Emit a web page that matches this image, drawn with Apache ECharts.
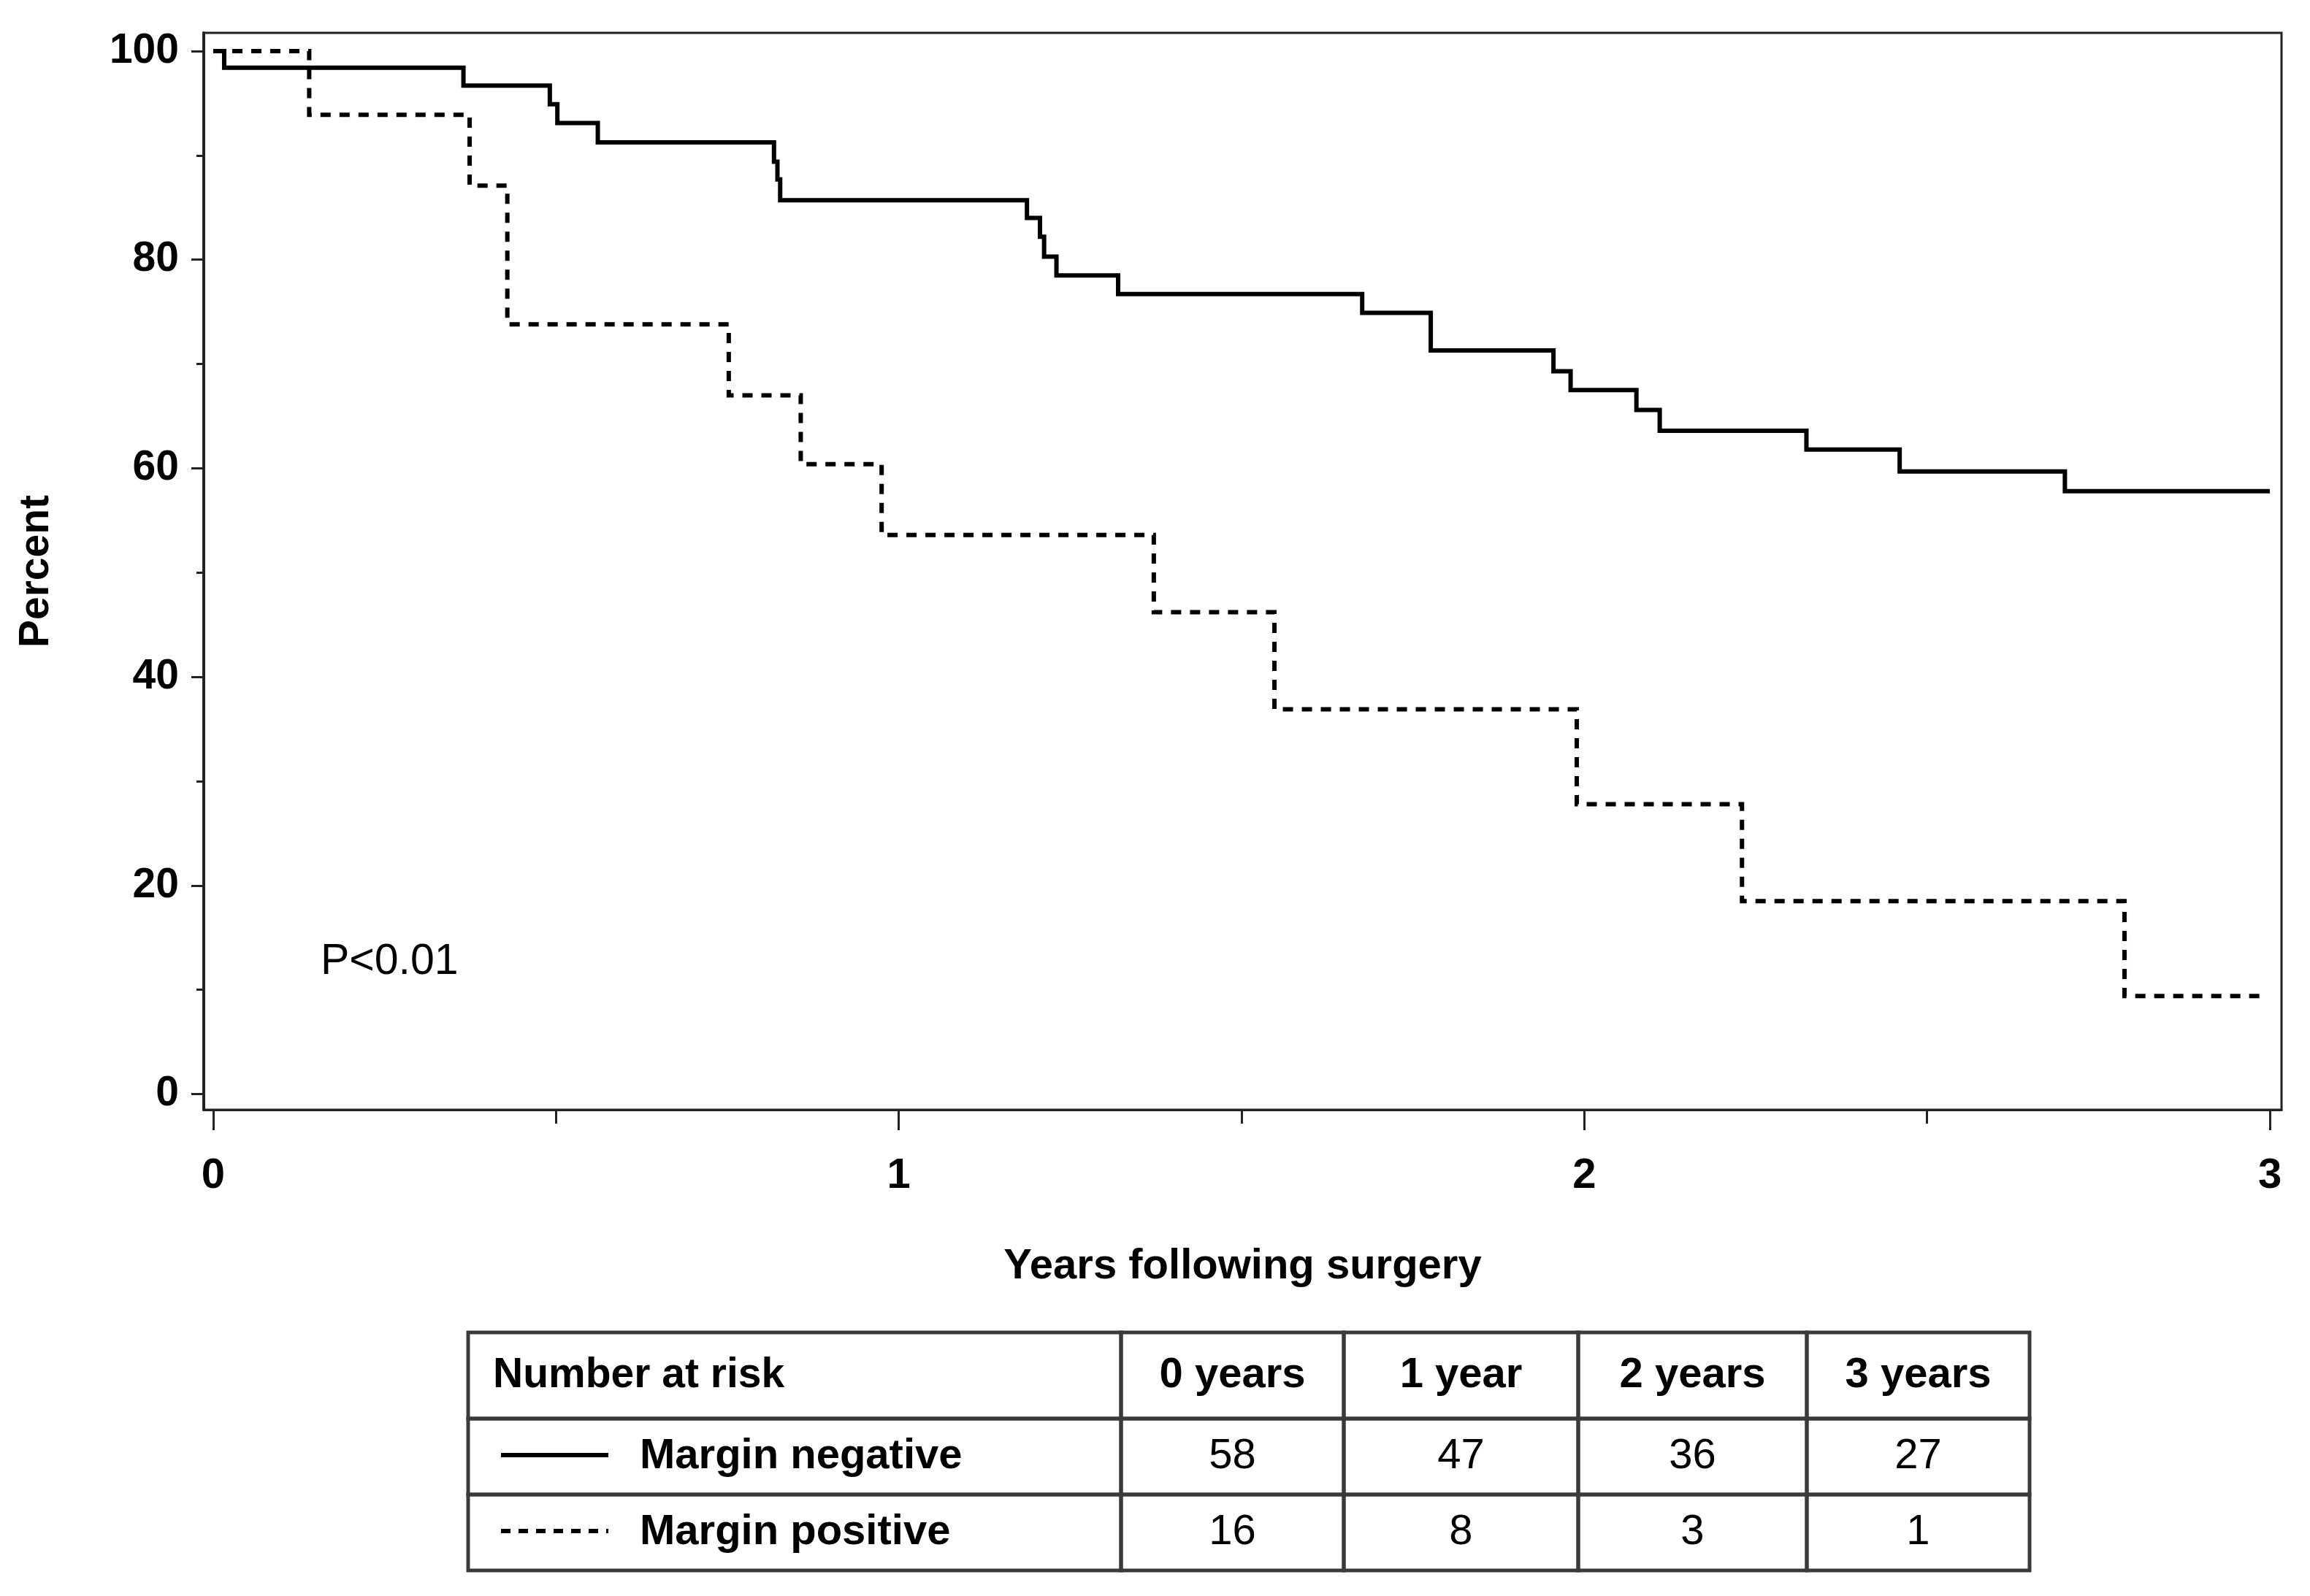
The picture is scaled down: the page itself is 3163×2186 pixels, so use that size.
<!DOCTYPE html>
<html><head><meta charset="utf-8">
<script src="https://cdn.jsdelivr.net/npm/echarts@6/dist/echarts.min.js"></script>
<style>html,body{margin:0;padding:0;background:#fff}#c{width:3163px;height:2186px}</style>
</head><body><div id="c"></div>
<script>
// ---- data ----
const negTimes = [0, 0.016, 0.365, 0.491, 0.502, 0.561, 0.818, 0.823, 0.827, 1.187, 1.206, 1.212, 1.230, 1.320, 1.676, 1.776, 1.955, 1.980, 2.076, 2.110, 2.324, 2.460, 2.701, 3.0];
const negSurv  = [100, 98.4, 96.7, 94.9, 93.1, 91.25, 89.4, 87.7, 85.7, 84.0, 82.2, 80.3, 78.5, 76.7, 74.9, 71.3, 69.3, 67.5, 65.6, 63.6, 61.8, 59.7, 57.8, 57.8];
const posTimes = [0, 0.140, 0.374, 0.429, 0.752, 0.857, 0.975, 1.372, 1.548, 1.989, 2.230, 2.788, 2.996];
const posSurv  = [100, 93.9, 87.1, 73.8, 67.0, 60.4, 53.6, 46.2, 36.9, 27.8, 18.5, 9.4, 9.4];
const yMajorTicks = [0, 20, 40, 60, 80, 100];
const yMinorTicks = [10, 30, 50, 70, 90];
const xMajorTicks = [0, 1, 2, 3];
const xMinorTicks = [0.5, 1.5, 2.5];
const seriesNames = ['Margin negative', 'Margin positive'];
const riskHeader = ['Number at risk', '0 years', '1 year', '2 years', '3 years'];
const riskNeg = [58, 47, 36, 27];
const riskPos = [16, 8, 3, 1];
const pText = 'P<0.01';
const xTitle = 'Years following surgery';
const yTitle = 'Percent';

// ---- layout (not data) ----
const FONT = '"Liberation Sans", Arial, Helvetica, sans-serif';
const colEdges = [0, 894, 1199, 1520, 1833, 2138];
const rowEdges = [0, 118, 222, 326];
const DASH = [14, 12];

const zip = (a, b) => a.map((v, i) => [v, b[i]]);
const cells = [];
for (let r = 0; r < 3; r++) for (let c = 0; c < 5; c++) cells.push([c, r]);
function cellText(c, r) {
  if (r === 0) return riskHeader[c];
  if (c === 0) return seriesNames[r - 1];
  return String((r === 1 ? riskNeg : riskPos)[c - 1]);
}

const chart = echarts.init(document.getElementById('c'));
const axisLbl = {fontFamily: FONT, fontWeight: 'bold', fontSize: 57, color: '#000'};
chart.setOption({
  animation: false,
  backgroundColor: '#fff',
  grid: [
    {left: 279, top: 45, right: 39, bottom: 666, show: true, borderColor: '#222', borderWidth: 3, backgroundColor: 'transparent'},
    {left: 641, top: 1825, width: 2138, height: 326, show: false}
  ],
  xAxis: [
    {type: 'value', gridIndex: 0, min: -0.0138, max: 3.017, position: 'bottom',
     axisLine: {show: true, onZero: false, lineStyle: {color: '#222', width: 3}},
     axisTick: {show: true, length: 28, customValues: xMajorTicks, lineStyle: {color: '#222', width: 3}},
     axisLabel: {show: true, customValues: xMajorTicks, margin: 62, ...axisLbl, fontSize: 58},
     splitLine: {show: false},
     name: xTitle, nameLocation: 'middle', nameGap: 186,
     nameTextStyle: {fontFamily: FONT, fontWeight: 'bold', fontSize: 58, color: '#000'}},
    {type: 'value', gridIndex: 0, min: -0.0138, max: 3.017, position: 'bottom',
     axisLine: {show: false, onZero: false},
     axisTick: {show: true, length: 19, customValues: xMinorTicks, lineStyle: {color: '#222', width: 3}},
     axisLabel: {show: false}, splitLine: {show: false}},
    {type: 'value', gridIndex: 1, min: 0, max: 2138, show: false}
  ],
  yAxis: [
    {type: 'value', gridIndex: 0, min: -1.5, max: 101.75, position: 'left',
     axisLine: {show: true, onZero: false, lineStyle: {color: '#222', width: 4}},
     axisTick: {show: true, length: 17, customValues: yMajorTicks, lineStyle: {color: '#222', width: 3}},
     axisLabel: {show: true, customValues: yMajorTicks, margin: 34, ...axisLbl},
     splitLine: {show: false},
     name: yTitle, nameLocation: 'middle', nameGap: 200, nameRotate: 90,
     nameTextStyle: {fontFamily: FONT, fontWeight: 'bold', fontSize: 57, color: '#000'}},
    {type: 'value', gridIndex: 0, min: -1.5, max: 101.75, position: 'left',
     axisLine: {show: false, onZero: false},
     axisTick: {show: true, length: 10, customValues: yMinorTicks, lineStyle: {color: '#222', width: 3}},
     axisLabel: {show: false}, splitLine: {show: false}},
    {type: 'value', gridIndex: 1, min: 0, max: 326, inverse: true, show: false}
  ],
  graphic: [
    {type: 'text', left: 439, top: 1288, style: {text: pText, fontFamily: FONT, fontSize: 59, fill: '#000'}}
  ],
  series: [
    {name: seriesNames[0], type: 'line', xAxisIndex: 0, yAxisIndex: 0, step: 'end',
     data: zip(negTimes, negSurv), showSymbol: false, symbol: 'none',
     lineStyle: {color: '#000', width: 6, cap: 'butt', join: 'miter'}},
    {name: seriesNames[1], type: 'line', xAxisIndex: 0, yAxisIndex: 0, step: 'end',
     data: zip(posTimes, posSurv), showSymbol: false, symbol: 'none',
     lineStyle: {color: '#000', width: 6, type: DASH, cap: 'butt', join: 'miter'}},
    {type: 'custom', xAxisIndex: 2, yAxisIndex: 2, data: cells, silent: true,
     encode: {x: 0, y: 1},
     renderItem: function (params, api) {
       const c = api.value(0), r = api.value(1);
       const p0 = api.coord([colEdges[c], rowEdges[r]]);
       const p1 = api.coord([colEdges[c + 1], rowEdges[r + 1]]);
       const x0 = p0[0], y0 = p0[1], w = p1[0] - p0[0], h = p1[1] - p0[1];
       const cy = y0 + h / 2;
       const children = [{type: 'rect', shape: {x: x0, y: y0, width: w, height: h},
         style: {fill: null, stroke: '#3a3a3a', lineWidth: 5}}];
       const txt = cellText(c, r);
       if (c === 0) {
         if (r === 0) {
           children.push({type: 'text', style: {text: txt, x: x0 + 34, y: cy, align: 'left', verticalAlign: 'middle',
             fontFamily: FONT, fontWeight: 'bold', fontSize: 57, fill: '#000'}});
         } else {
           children.push({type: 'line', shape: {x1: x0 + 45, y1: cy - 2, x2: x0 + 192, y2: cy - 2},
             style: {stroke: '#000', lineWidth: 6, lineDash: r === 2 ? [13, 11] : null}});
           children.push({type: 'text', style: {text: txt, x: x0 + 235, y: cy, align: 'left', verticalAlign: 'middle',
             fontFamily: FONT, fontWeight: 'bold', fontSize: 58, fill: '#000'}});
         }
       } else {
         children.push({type: 'text', style: {text: txt, x: x0 + w / 2, y: cy, align: 'center', verticalAlign: 'middle',
           fontFamily: FONT, fontWeight: r === 0 ? 'bold' : 'normal', fontSize: 58, fill: '#000'}});
       }
       return {type: 'group', children: children};
     }}
  ]
});
</script>
</body></html>
